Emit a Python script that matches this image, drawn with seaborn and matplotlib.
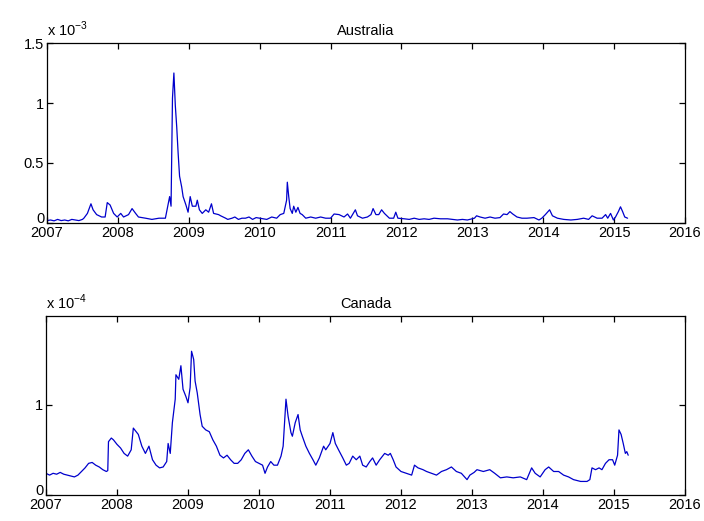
import numpy as np
import pandas as pd
import matplotlib
matplotlib.use("Agg")
import matplotlib.pyplot as plt
import matplotlib.transforms as mtransforms
import seaborn as sns

# ---------------- data ----------------
# Australia, units of 1e-3
aus_years = [2007.00, 2007.05, 2007.10, 2007.15, 2007.20, 2007.25, 2007.30, 2007.35, 2007.40, 2007.45,
             2007.50, 2007.52, 2007.57, 2007.62, 2007.65, 2007.70, 2007.77, 2007.82, 2007.85, 2007.89,
             2007.94, 2007.99, 2008.04, 2008.08, 2008.15, 2008.20, 2008.25, 2008.29, 2008.39, 2008.48,
             2008.58, 2008.67, 2008.71, 2008.73, 2008.75, 2008.77, 2008.79, 2008.81, 2008.83, 2008.85,
             2008.87, 2008.90, 2008.92, 2008.96, 2008.99, 2009.02, 2009.05, 2009.10, 2009.12, 2009.15,
             2009.19, 2009.24, 2009.28, 2009.32, 2009.35, 2009.42, 2009.45, 2009.52, 2009.55, 2009.61,
             2009.65, 2009.70, 2009.75, 2009.80, 2009.85, 2009.90, 2009.95, 2010.00, 2010.10, 2010.17,
             2010.24, 2010.29, 2010.34, 2010.38, 2010.39, 2010.41, 2010.43, 2010.46, 2010.48, 2010.51,
             2010.54, 2010.57, 2010.60, 2010.65, 2010.72, 2010.79, 2010.86, 2010.93, 2011.00, 2011.05,
             2011.12, 2011.19, 2011.24, 2011.28, 2011.35, 2011.38, 2011.45, 2011.52, 2011.57, 2011.60,
             2011.64, 2011.68, 2011.72, 2011.76, 2011.83, 2011.89, 2011.92, 2011.95, 2012.04, 2012.11,
             2012.18, 2012.25, 2012.32, 2012.39, 2012.46, 2012.55, 2012.65, 2012.72, 2012.79, 2012.86,
             2012.93, 2013.03, 2013.06, 2013.11, 2013.18, 2013.25, 2013.32, 2013.39, 2013.44, 2013.49,
             2013.53, 2013.57, 2013.63, 2013.70, 2013.77, 2013.87, 2013.94, 2013.98, 2014.03, 2014.09,
             2014.13, 2014.20, 2014.29, 2014.39, 2014.48, 2014.57, 2014.64, 2014.69, 2014.76, 2014.83,
             2014.88, 2014.91, 2014.95, 2014.99, 2015.02, 2015.06, 2015.09, 2015.12, 2015.15, 2015.19]
aus_vals = [0.020, 0.025, 0.018, 0.030, 0.020, 0.025, 0.018, 0.030, 0.025, 0.020,
            0.030, 0.040, 0.080, 0.160, 0.110, 0.070, 0.050, 0.050, 0.170, 0.150,
            0.080, 0.050, 0.080, 0.050, 0.070, 0.120, 0.080, 0.050, 0.040, 0.030,
            0.040, 0.040, 0.160, 0.220, 0.140, 1.040, 1.250, 0.980, 0.800, 0.580,
            0.390, 0.300, 0.220, 0.150, 0.090, 0.220, 0.140, 0.140, 0.190, 0.110,
            0.080, 0.110, 0.090, 0.160, 0.080, 0.070, 0.060, 0.040, 0.030, 0.040,
            0.050, 0.030, 0.040, 0.040, 0.050, 0.030, 0.045, 0.040, 0.030, 0.050,
            0.040, 0.070, 0.080, 0.190, 0.340, 0.220, 0.120, 0.080, 0.140, 0.090,
            0.130, 0.080, 0.070, 0.040, 0.050, 0.040, 0.050, 0.040, 0.040, 0.075,
            0.070, 0.050, 0.075, 0.040, 0.110, 0.060, 0.040, 0.050, 0.070, 0.120,
            0.070, 0.070, 0.110, 0.080, 0.040, 0.040, 0.090, 0.040, 0.035, 0.030,
            0.040, 0.030, 0.035, 0.030, 0.040, 0.035, 0.035, 0.030, 0.025, 0.030,
            0.025, 0.040, 0.060, 0.050, 0.040, 0.050, 0.040, 0.045, 0.075, 0.070,
            0.095, 0.075, 0.050, 0.040, 0.040, 0.045, 0.025, 0.040, 0.070, 0.110,
            0.060, 0.040, 0.030, 0.025, 0.030, 0.040, 0.030, 0.060, 0.040, 0.040,
            0.070, 0.040, 0.080, 0.025, 0.050, 0.095, 0.135, 0.095, 0.050, 0.040]

# Canada, units of 1e-4
can_years = [2007.00, 2007.05, 2007.10, 2007.15, 2007.20, 2007.25, 2007.30, 2007.35, 2007.40, 2007.45,
             2007.50, 2007.55, 2007.60, 2007.65, 2007.70, 2007.75, 2007.80, 2007.85, 2007.87, 2007.88,
             2007.92, 2007.95, 2008.00, 2008.05, 2008.10, 2008.15, 2008.20, 2008.23, 2008.27, 2008.30,
             2008.35, 2008.40, 2008.45, 2008.50, 2008.55, 2008.60, 2008.65, 2008.70, 2008.72, 2008.75,
             2008.78, 2008.82, 2008.83, 2008.87, 2008.90, 2008.93, 2008.97, 2009.00, 2009.03, 2009.05,
             2009.08, 2009.10, 2009.13, 2009.17, 2009.20, 2009.25, 2009.30, 2009.35, 2009.40, 2009.45,
             2009.50, 2009.55, 2009.60, 2009.65, 2009.70, 2009.75, 2009.80, 2009.85, 2009.90, 2009.95,
             2010.00, 2010.05, 2010.085, 2010.12, 2010.165, 2010.21, 2010.26, 2010.31, 2010.34, 2010.38,
             2010.41, 2010.45, 2010.47, 2010.51, 2010.55, 2010.58, 2010.61, 2010.66, 2010.71, 2010.76,
             2010.80, 2010.85, 2010.91, 2010.94, 2011.00, 2011.04, 2011.075, 2011.12, 2011.18, 2011.23,
             2011.27, 2011.32, 2011.37, 2011.42, 2011.46, 2011.51, 2011.56, 2011.60, 2011.65, 2011.70,
             2011.75, 2011.77, 2011.82, 2011.85, 2011.89, 2011.93, 2012.00, 2012.075, 2012.15, 2012.19,
             2012.24, 2012.31, 2012.36, 2012.43, 2012.50, 2012.57, 2012.64, 2012.71, 2012.78, 2012.85,
             2012.93, 2012.97, 2013.03, 2013.07, 2013.16, 2013.25, 2013.32, 2013.40, 2013.49, 2013.58,
             2013.68, 2013.77, 2013.84, 2013.89, 2013.96, 2014.03, 2014.08, 2014.15, 2014.22, 2014.29,
             2014.36, 2014.43, 2014.53, 2014.62, 2014.66, 2014.69, 2014.74, 2014.79, 2014.83, 2014.88,
             2014.93, 2014.98, 2015.01, 2015.05, 2015.07, 2015.10, 2015.13, 2015.16, 2015.18, 2015.20]
can_vals = [0.24, 0.22, 0.24, 0.23, 0.25, 0.23, 0.22, 0.21, 0.20, 0.22,
            0.26, 0.30, 0.35, 0.36, 0.33, 0.31, 0.28, 0.26, 0.27, 0.59,
            0.63, 0.61, 0.56, 0.52, 0.46, 0.43, 0.50, 0.74, 0.70, 0.67,
            0.54, 0.46, 0.54, 0.39, 0.33, 0.30, 0.31, 0.37, 0.57, 0.46,
            0.80, 1.06, 1.33, 1.28, 1.43, 1.17, 1.09, 1.02, 1.19, 1.59,
            1.50, 1.26, 1.13, 0.89, 0.76, 0.72, 0.70, 0.61, 0.54, 0.44,
            0.41, 0.44, 0.39, 0.35, 0.35, 0.39, 0.46, 0.50, 0.43, 0.37,
            0.35, 0.33, 0.24, 0.31, 0.37, 0.33, 0.33, 0.43, 0.54, 1.06,
            0.87, 0.69, 0.65, 0.80, 0.89, 0.72, 0.65, 0.54, 0.46, 0.39,
            0.33, 0.41, 0.54, 0.50, 0.57, 0.69, 0.57, 0.50, 0.41, 0.33,
            0.35, 0.43, 0.39, 0.43, 0.33, 0.31, 0.37, 0.41, 0.33, 0.39,
            0.44, 0.46, 0.44, 0.46, 0.39, 0.31, 0.26, 0.24, 0.22, 0.33,
            0.30, 0.28, 0.26, 0.24, 0.22, 0.26, 0.28, 0.31, 0.26, 0.24,
            0.17, 0.22, 0.25, 0.28, 0.26, 0.28, 0.24, 0.19, 0.20, 0.19,
            0.20, 0.17, 0.30, 0.24, 0.20, 0.28, 0.31, 0.26, 0.26, 0.22,
            0.20, 0.17, 0.15, 0.15, 0.17, 0.30, 0.28, 0.30, 0.28, 0.35,
            0.39, 0.39, 0.33, 0.44, 0.72, 0.67, 0.57, 0.46, 0.48, 0.44]

year_ticks = list(range(2007, 2017))
aus_yticks = [0, 0.5, 1, 1.5]
aus_ytick_labels = ["0", "0.5", "1", "1.5"]
can_yticks = [0, 1]
can_ytick_labels = ["0", "1"]

# ---------------- style ----------------
sns.set_theme(style="white")
plt.rcParams["font.family"] = ["Liberation Sans", "DejaVu Sans"]
plt.rcParams["mathtext.fontset"] = "custom"
plt.rcParams["mathtext.rm"] = "Liberation Sans"
plt.rcParams["axes.edgecolor"] = "black"
plt.rcParams["axes.linewidth"] = 0.9

fig = plt.figure(figsize=(7.04, 5.21), dpi=100)
ax1 = fig.add_axes([47 / 704, 1 - 223 / 521, (685 - 47) / 704, (223 - 43) / 521])
ax2 = fig.add_axes([46 / 704, 1 - 495 / 521, (685 - 46) / 704, (495 - 316) / 521])

aus_df = pd.DataFrame({"year": aus_years, "value": aus_vals})
can_df = pd.DataFrame({"year": can_years, "value": can_vals})

line_color = "#0000cc"
sns.lineplot(data=aus_df, x="year", y="value", ax=ax1, color=line_color,
             linewidth=0.9, sort=False, estimator=None)
sns.lineplot(data=can_df, x="year", y="value", ax=ax2, color=line_color,
             linewidth=0.9, sort=False, estimator=None)


def style_axes(ax, yticks, ylabels, ylim, title, exponent):
    ax.set_xlim(2007, 2016)
    ax.set_ylim(*ylim)
    ax.set_xticks(year_ticks)
    ax.set_xticklabels([str(y) for y in year_ticks])
    ax.set_yticks(yticks)
    ax.set_yticklabels(ylabels)
    ax.set_xlabel("")
    ax.set_ylabel("")
    ax.tick_params(axis="both", which="both", direction="in", length=4, width=0.9,
                   top=True, right=True, bottom=True, left=True,
                   labelsize=10.5, colors="black", pad=2)
    for s in ax.spines.values():
        s.set_visible(True)
        s.set_color("black")
    ax.set_title(title, fontsize=10.5, pad=6, color="black")
    ax.text(0.0, 1.025, "x 10$^{\\mathregular{" + exponent + "}}$",
            transform=ax.transAxes, ha="left", va="bottom", fontsize=10.5, color="black")
    # nudge the "0" label up slightly so it sits just above the first year label
    zero_lbl = ax.get_yticklabels()[0]
    zero_lbl.set_transform(zero_lbl.get_transform() +
                           mtransforms.ScaledTranslation(0, 4 / 72, fig.dpi_scale_trans))


style_axes(ax1, aus_yticks, aus_ytick_labels, (0, 1.5), "Australia", "-3")
style_axes(ax2, can_yticks, can_ytick_labels, (0, 1.98), "Canada", "-4")

fig.savefig("out.png", dpi=100, facecolor="white")
